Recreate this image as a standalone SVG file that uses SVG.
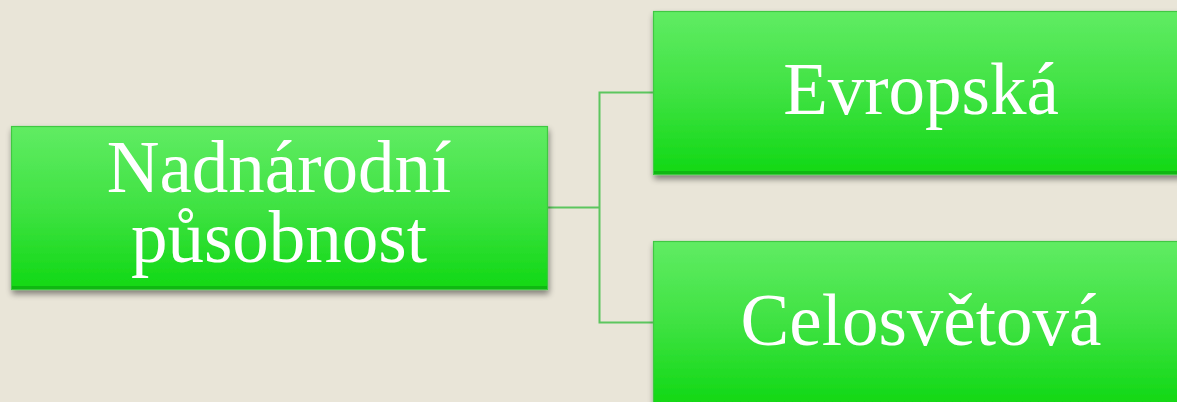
<svg xmlns="http://www.w3.org/2000/svg" width="1177" height="402" viewBox="0 0 1177 402">
<defs>
<linearGradient id="g" x1="0" y1="0" x2="0" y2="1">
<stop offset="0" stop-color="#60EC63"/>
<stop offset="0.5" stop-color="#3FE242"/>
<stop offset="1" stop-color="#10D814"/>
</linearGradient>
<filter id="sh" x="-5%" y="-10%" width="110%" height="125%">
<feGaussianBlur in="SourceAlpha" stdDeviation="3"/>
<feOffset dx="1" dy="4" result="b"/>
<feComponentTransfer><feFuncA type="linear" slope="0.45"/></feComponentTransfer>
<feMerge><feMergeNode/><feMergeNode in="SourceGraphic"/></feMerge>
</filter>
</defs>
<style>
.box{fill:url(#g);stroke:#3FC843;stroke-width:1.2;filter:url(#sh)}
.edge{fill:#0FB812}
.lbl{font-family:"Liberation Serif","Times New Roman",serif;font-size:73px;fill:#FFFFFF;text-anchor:middle}
.con{fill:none;stroke:#5CC65E;stroke-width:2}
</style>
<rect width="1177" height="402" fill="#E9E5D8"/>
<g id="connectors">
<polyline class="con" points="547,207.5 599.5,207.5"/>
<polyline class="con" points="653,92.5 599.5,92.5 599.5,322.5 653,322.5"/>
</g>
<g id="node-nadnarodni">
<rect class="box" x="11.5" y="126.5" width="536" height="163"/>
<rect class="edge" x="12" y="286" width="535" height="3"/>
<text class="lbl" x="279" y="192">Nadnárodní<tspan x="279" y="262">působnost</tspan></text>
</g>
<g id="node-evropska">
<rect class="box" x="653.5" y="11.5" width="536" height="163"/>
<rect class="edge" x="654" y="171" width="535" height="3"/>
<text class="lbl" x="921" y="114">Evropská</text>
</g>
<g id="node-celosvetova">
<rect class="box" x="653.5" y="241.5" width="536" height="163"/>
<text class="lbl" x="921" y="345">Celosvětová</text>
</g>
</svg>
